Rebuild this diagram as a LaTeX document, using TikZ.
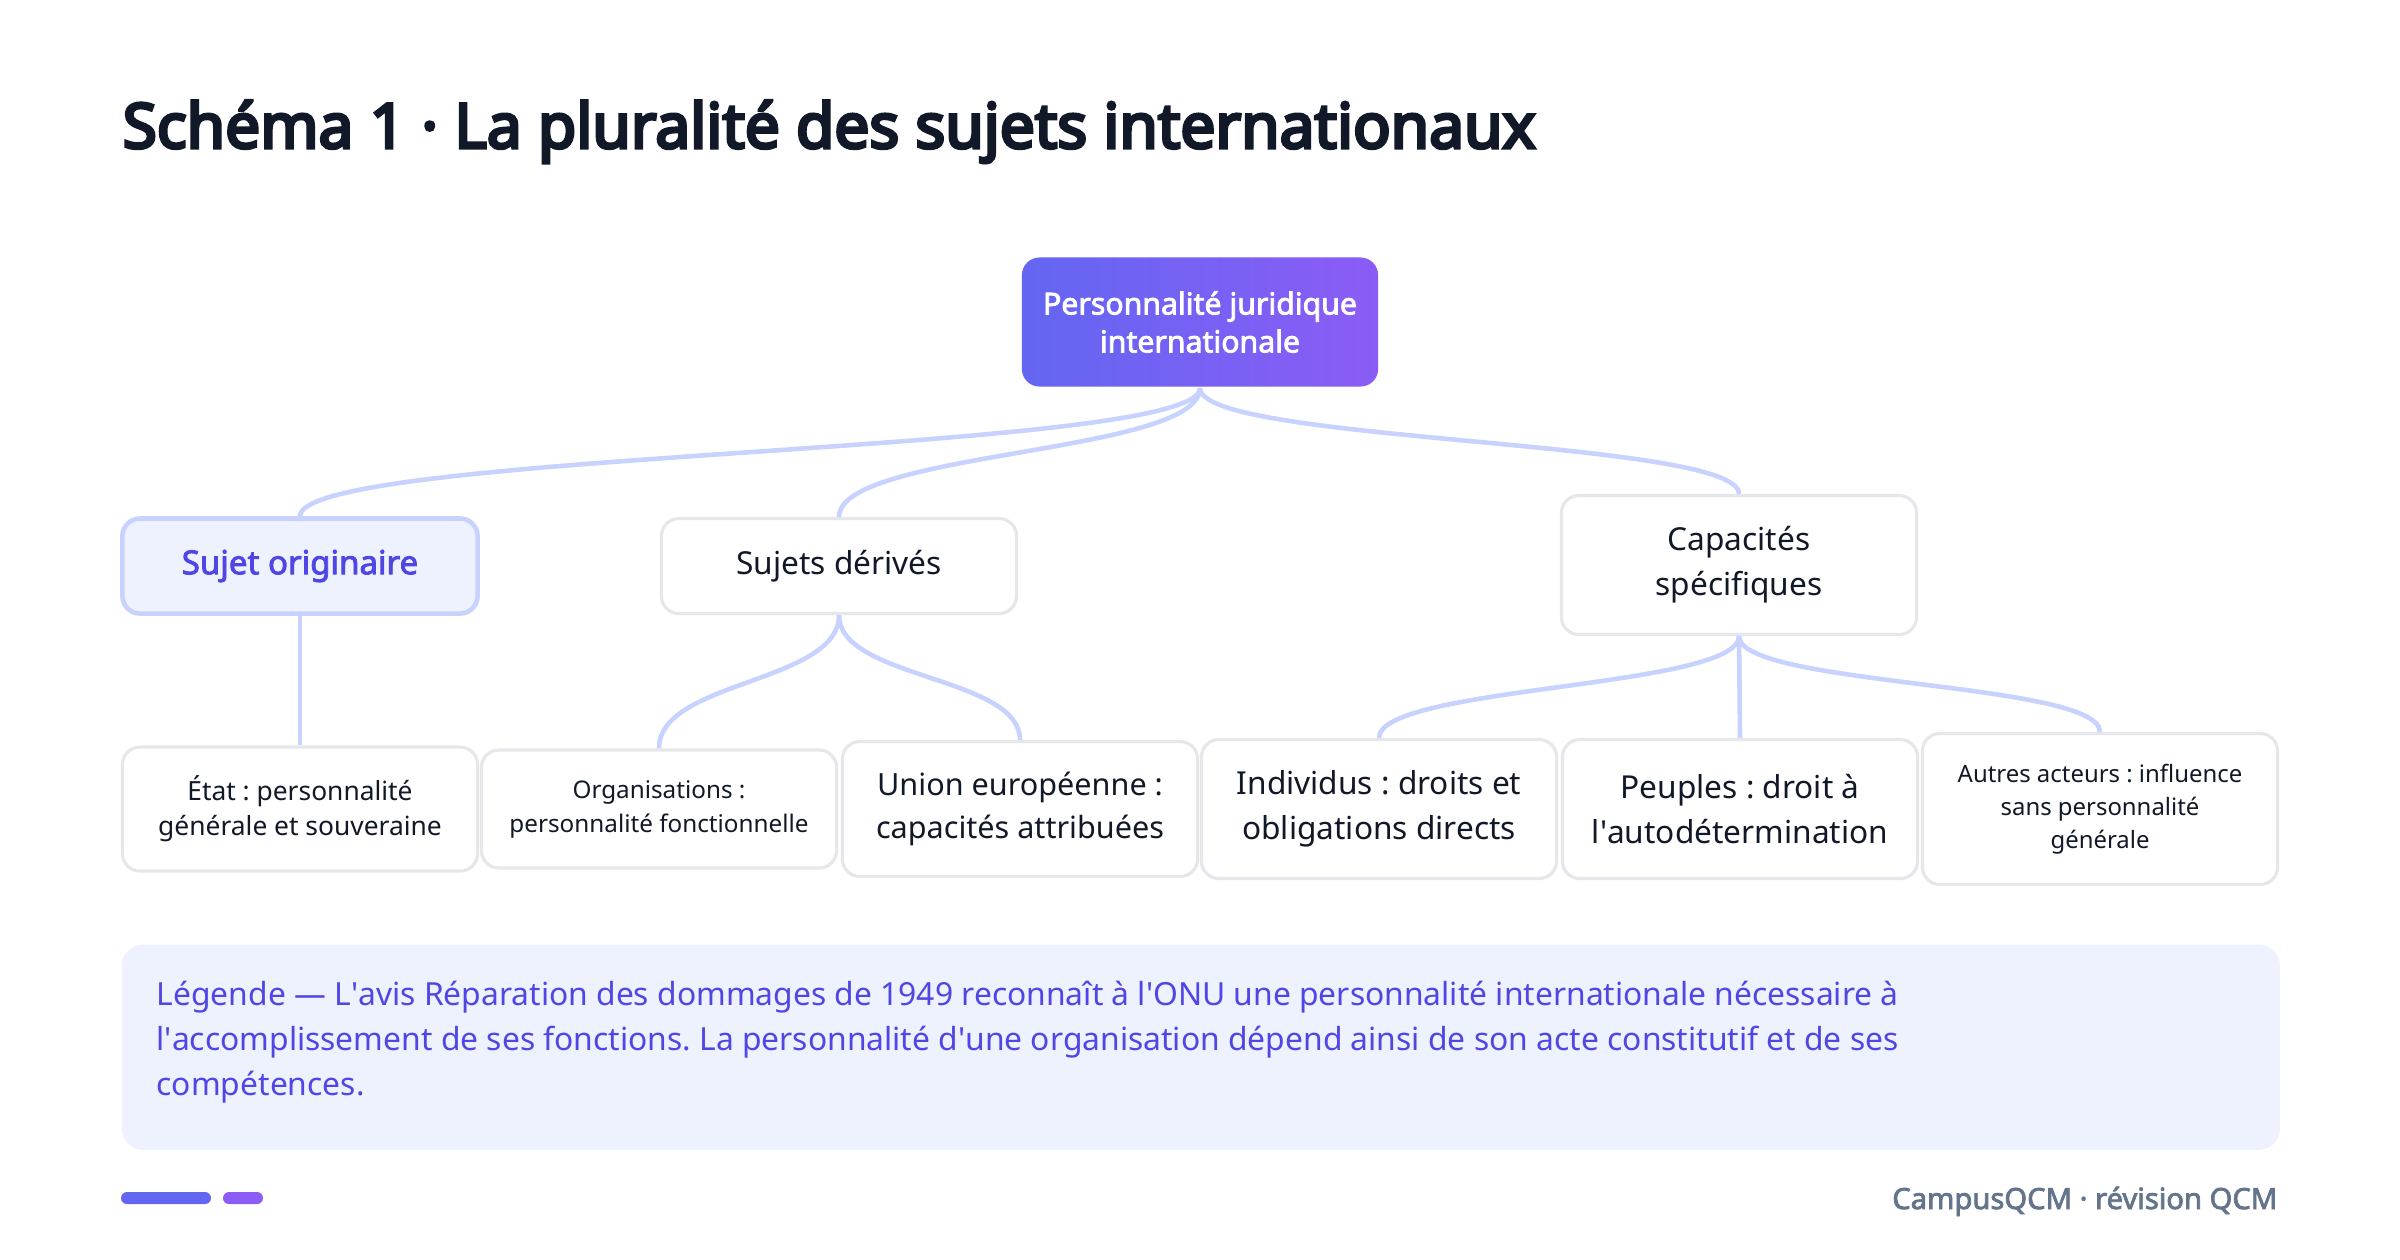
\documentclass[tikz,border=0pt]{standalone}
\usepackage{fontspec}
\setmainfont{Noto Sans}[BoldFont={Noto Sans}, BoldFeatures={FakeBold=2.6}]
\newfontfamily\titlefont{Noto Sans}[FakeBold=5]
\usetikzlibrary{positioning}

\definecolor{indigo}{HTML}{6366F1}
\definecolor{violet}{HTML}{8B5CF6}
\definecolor{linkcol}{HTML}{C7D2FE}
\definecolor{boxline}{HTML}{E5E7EB}
\definecolor{paleblue}{HTML}{EEF2FF}
\definecolor{deepindigo}{HTML}{4F46E5}
\definecolor{inktext}{HTML}{111827}
\definecolor{footgray}{HTML}{64748B}

\newcommand{\ap}{\textquotesingle}
\newcommand{\fs}[2]{\fontsize{#1}{#2}\selectfont}
\frenchspacing

\begin{document}
\begin{tikzpicture}[x=0.01cm,y=-0.01cm,
  box/.style={draw=boxline, line width=0.9pt, fill=white, rounded corners=5pt,
    minimum width=3.55cm, align=center, text=inktext, inner sep=0pt},
  link/.style={draw=linkcol, line width=1.3pt}]

  % Fix the page size
  \useasboundingbox[fill=white] (0,0) rectangle (2400,1259);

  % Title
  \node[anchor=base west, inner sep=0pt, text=inktext, font=\titlefont\fs{17.7}{20}]
    (title) at (122,148) {Schéma 1 · La pluralité des sujets internationaux};

  % Root of the tree
  \node[box, draw=none, left color=indigo, right color=violet, text=white,
    minimum width=3.56cm, minimum height=1.29cm, font=\fs{8.6}{10.8}\bfseries]
    (root) at (1200,322) {Personnalité juridique\\internationale};

  % Second level
  \node[box, draw=linkcol, line width=1.3pt, fill=paleblue, text=deepindigo,
    minimum height=0.95cm, font=\fs{9.4}{12}\bfseries]
    (orig) at (300,566) {Sujet originaire};
  \node[box, minimum height=0.95cm, font=\fs{9}{12}]
    (deriv) at (839,566) {Sujets dérivés};
  \node[box, minimum height=1.39cm, font=\fs{9}{12.8}]
    (capa) at (1739,565) {Capacités\\spécifiques};

  % Third level
  \node[box, minimum height=1.24cm, font=\fs{7.5}{10}]
    (etat) at (300,809) {État : personnalité\\générale et souveraine};
  \node[box, minimum height=1.18cm, font=\fs{6.9}{9.7}]
    (orga) at (659,809) {Organisations :\\personnalité fonctionnelle};
  \node[box, minimum height=1.35cm, font=\fs{8.7}{12.2}]
    (ue) at (1020,809) {Union européenne :\\capacités attribuées};
  \node[box, minimum height=1.39cm, font=\fs{9}{12.7}]
    (indiv) at (1379,809) {Individus : droits et\\obligations directs};
  \node[box, minimum height=1.39cm, font=\fs{9}{12.7}]
    (peuple) at (1740,809) {Peuples : droit à\\l\ap autodétermination};
  \node[box, minimum height=1.51cm, font=\fs{6.8}{9.4}]
    (autres) at (2100,809) {Autres acteurs : influence\\sans personnalité\\générale};

  % Links
  \draw[link] (root.south) .. controls +(0,66) and +(0,-66) .. (orig.north);
  \draw[link] (root.south) .. controls +(0,66) and +(0,-66) .. (deriv.north);
  \draw[link] (root.south) .. controls +(0,55) and +(0,-55) .. (capa.north);
  \draw[link] (orig.south) -- (etat.north);
  \draw[link] (deriv.south) .. controls +(0,68) and +(0,-68) .. (orga.north);
  \draw[link] (deriv.south) .. controls +(0,64) and +(0,-64) .. (ue.north);
  \draw[link] (capa.south) .. controls +(0,52) and +(0,-52) .. (indiv.north);
  \draw[link] (capa.south) -- (peuple.north);
  \draw[link] (capa.south) .. controls +(0,50) and +(0,-50) .. (autres.north);

  % Legend
  \node[fill=paleblue, rounded corners=6pt, minimum width=21.57cm, minimum height=2.05cm,
    anchor=north west, inner sep=0pt] (legend) at (121,944) {};
  \node[anchor=base west, align=left, inner sep=0pt, text=deepindigo, font=\fs{9.05}{12.8}]
    (legendtext) at (156,1095)
    {Légende — L\ap avis Réparation des dommages de 1949 reconnaît à l\ap ONU une personnalité internationale nécessaire à\\
     l\ap accomplissement de ses fonctions. La personnalité d\ap une organisation dépend ainsi de son acte constitutif et de ses\\
     compétences.};

  % Footer
  \fill[indigo, rounded corners=1.7pt] (121,1192) rectangle (211,1204);
  \fill[violet, rounded corners=1.7pt] (223,1192) rectangle (263,1204);
  \node[anchor=base east, inner sep=0pt, text=footgray, font=\fs{8.3}{10}\bfseries]
    (foot) at (2278,1209) {CampusQCM · révision QCM};

\end{tikzpicture}
\end{document}
